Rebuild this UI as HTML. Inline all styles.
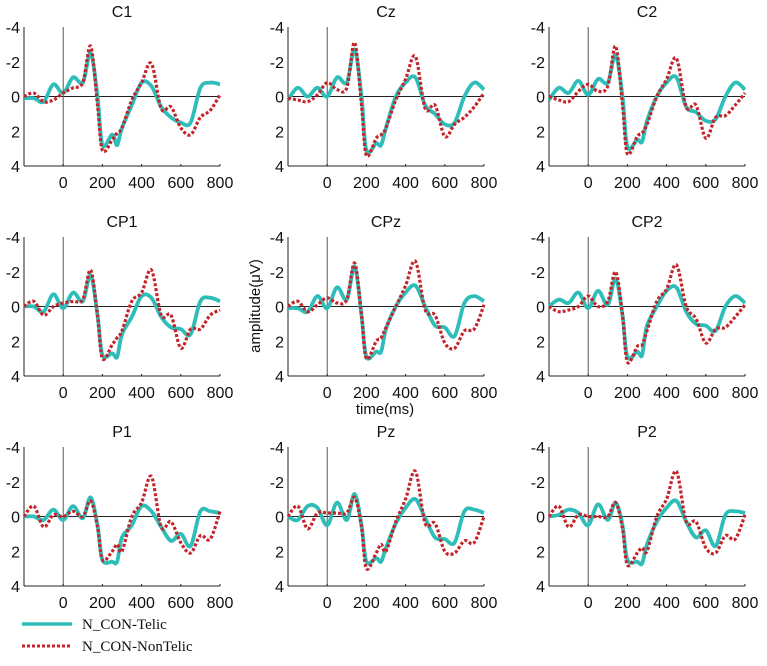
<!DOCTYPE html>
<html><head><meta charset="utf-8"><style>
body{margin:0;background:#fff;}
svg text{font-family:"Liberation Sans",Arial,sans-serif;fill:#111;}
</style></head><body>
<svg id="chart" width="767" height="661" viewBox="0 0 767 661" xmlns="http://www.w3.org/2000/svg"></svg>
<script>
const times=[-200,-150,-100,-50,0,50,100,140,175,200,250,275,300,350,400,450,500,550,600,650,700,750,800];
const channels=["C1","Cz","C2","CP1","CPz","CP2","P1","Pz","P2"];
const telicC1=[0.1,0.1,0.3,-0.7,-0.2,-1.1,-0.8,-2.5,0,2.8,2.2,2.8,1.8,0.5,-0.8,-0.6,0.6,1.2,1.5,1.5,-0.5,-0.8,-0.7];
const nonC1=[0,-0.2,0.3,0.2,-0.2,-0.5,-0.8,-2.9,0.5,3.1,2.5,2.1,1.8,0.2,-0.8,-1.9,0.7,0.6,1.8,2.2,1.2,0.8,-0.1];
const telicCz=[0.2,-0.5,0,-0.5,0,-1.1,-0.8,-2.7,0,3.1,2.7,2.8,1.8,0,-0.8,-1.1,0.5,1.0,1.6,1.5,0,-0.8,-0.4];
const nonCz=[0.1,0.2,0.3,-0.1,-0.8,-0.4,-0.5,-3.1,0.5,3.4,2.4,2.2,1.8,0.2,-1.0,-2.3,0.7,0.5,2.3,1.6,1.2,0.6,-0.2];
const telicC2=[0.2,-0.5,-0.2,-0.9,-0.1,-1.0,-0.8,-2.4,0,2.9,2.5,2.6,1.4,0,-0.8,-1.1,0.6,0.9,1.4,1.3,0,-0.8,-0.4];
const nonC2=[0,0.2,0.3,-0.3,-0.7,-0.3,-0.6,-2.9,0.5,3.3,2.3,2.1,1.6,0,-1.0,-2.2,0.6,0.5,2.4,1.2,1.1,0.5,-0.2];
const telicCP1=[0,0,0.3,-0.7,0.1,-0.8,-0.3,-1.8,0.5,2.8,2.7,2.9,1.6,0.6,-0.6,-0.5,0.6,1.2,1.3,1.6,-0.3,-0.5,-0.3];
const nonCP1=[0,-0.3,0.5,0,-0.2,-0.3,-0.4,-2.1,0.5,3.0,2.2,1.8,1.4,-0.3,-0.8,-2.1,0.5,0.5,2.4,1.3,1.3,0.5,0.2];
const telicCPz=[0.1,0.1,0.3,-0.6,0.1,-1.1,-0.4,-2.3,0.5,2.9,2.6,2.6,1.3,0,-0.8,-1.2,0,1.1,1.2,1.7,-0.2,-0.6,-0.3];
const nonCPz=[0,-0.3,0.3,-0.1,-0.5,-0.2,-0.4,-2.5,0.5,3.0,2.0,1.8,1.2,0,-1.2,-2.6,0.2,0.5,2.1,2.4,1.4,1.3,-0.1];
const telicCP2=[0,-0.4,-0.2,-0.8,0.1,-0.9,-0.1,-1.6,0.5,2.9,2.6,2.8,1.1,0,-0.9,-1.1,0.3,1.0,1.1,1.4,0,-0.6,-0.2];
const nonCP2=[0,0.3,0.2,0,-0.6,0,-0.3,-2.0,0.5,3.2,2.3,2.2,1.4,-0.3,-1.0,-2.4,0,0.7,2.1,1.3,1.2,0.6,-0.1];
const telicP1=[0,0,0.2,-0.4,0.2,-0.6,0.1,-1.1,0.5,2.5,2.6,2.6,1.2,0.5,-0.6,-0.3,0.6,1.4,1.0,1.7,-0.3,-0.3,-0.2];
const nonP1=[0,-0.6,0.6,-0.1,0,-0.3,0,-0.9,0.6,2.5,2.0,1.6,2.0,0,-0.8,-2.3,0.6,0.3,1.5,2.1,1.1,1.3,-0.3];
const telicPz=[0,0.2,-0.6,-0.5,0.5,-0.8,0.2,-1.3,0.5,2.6,2.4,2.6,1.8,0.4,-0.5,-1.0,0.1,1.2,1.3,1.5,-0.3,-0.4,-0.2];
const nonPz=[0,-0.6,0.7,-0.2,-0.2,-0.2,-0.2,-1.1,0.6,3.0,2.1,1.6,2.0,0.3,-1.0,-2.6,0.4,0.4,2.0,2.1,1.4,1.5,0];
const telicP2=[0,-0.1,-0.4,-0.2,0.5,-0.7,0.2,-0.8,0.5,2.5,2.6,2.7,1.6,0.3,-0.5,-0.9,0.3,1.2,0.8,1.7,-0.1,-0.3,-0.2];
const nonP2=[0,-0.6,0.6,-0.1,0,0,0,-0.8,0.7,2.8,2.1,1.8,2.0,0,-1.0,-2.6,0.3,0.3,1.8,2.1,1.1,1.3,-0.1];
const telicSeries=[telicC1,telicCz,telicC2,telicCP1,telicCPz,telicCP2,telicP1,telicPz,telicP2];
const nonSeries=[nonC1,nonCz,nonC2,nonCP1,nonCPz,nonCP2,nonP1,nonPz,nonP2];
const xTicks=[0,200,400,600,800];
const yTicks=[-4,-2,0,2,4];

const NS="http://www.w3.org/2000/svg";
const svg=document.getElementById('chart');
function mk(tag,attrs,parent){const e=document.createElementNS(NS,tag);for(const k in attrs)e.setAttribute(k,attrs[k]);(parent||svg).appendChild(e);return e;}
function smooth(p){let d='M'+p[0][0].toFixed(1)+','+p[0][1].toFixed(1);
  for(let i=0;i<p.length-1;i++){const p0=p[i-1]||p[i],p1=p[i],p2=p[i+1],p3=p[i+2]||p2;
    const c1=[p1[0]+(p2[0]-p0[0])/6,p1[1]+(p2[1]-p0[1])/6],c2=[p2[0]-(p3[0]-p1[0])/6,p2[1]-(p3[1]-p1[1])/6];
    d+=' C'+c1[0].toFixed(1)+','+c1[1].toFixed(1)+' '+c2[0].toFixed(1)+','+c2[1].toFixed(1)+' '+p2[0].toFixed(1)+','+p2[1].toFixed(1);}
  return d;}
const colL=[24,288,549],rowT=[27,237,447],W=196,H=139;
channels.forEach((ch,i)=>{
  const L=colL[i%3],T=rowT[Math.floor(i/3)];
  const xs=t=>L+(t+200)/1000*W;
  const ys=v=>T+(v+4)/8*H;
  const g=mk('g',{});
  
  
  const title=mk('text',{x:L+W/2,y:T-10,'text-anchor':'middle','font-size':16},g);title.textContent=ch;
  
  
  mk('line',{x1:L,y1:T,x2:L,y2:T+H,stroke:'#222','stroke-width':1},g);
  mk('line',{x1:L,y1:T+H,x2:L+W,y2:T+H,stroke:'#222','stroke-width':1},g);
  mk('line',{x1:L,y1:ys(0),x2:L+W,y2:ys(0),stroke:'#222','stroke-width':1},g);
  mk('line',{x1:xs(0),y1:T,x2:xs(0),y2:T+H,stroke:'#555','stroke-width':1},g);
  yTicks.forEach(v=>{const t=mk('text',{x:L-4,y:ys(v)+6,'text-anchor':'end','font-size':16},g);t.textContent=v;
    
    });
  xTicks.forEach(v=>{mk('line',{x1:xs(v),y1:T+H,x2:xs(v),y2:T+H-2,stroke:'#222'},g);
    const t=mk('text',{x:xs(v),y:T+H+22,'text-anchor':'middle','font-size':16},g);t.textContent=v;
    
    });
  const pts=arr=>arr.map((v,k)=>[xs(times[k]),ys(v)]);
  const a=mk('path',{d:smooth(pts(telicSeries[i])),fill:'none',stroke:'#2fbdb9','stroke-width':3.8,'stroke-linejoin':'round'},g);
  
  
  const b=mk('path',{d:smooth(pts(nonSeries[i])),fill:'none',stroke:'#c4252a','stroke-width':3.2,'stroke-dasharray':'3,2','stroke-linejoin':'round'},g);
  
  
});
const yl=mk('text',{x:0,y:0,'text-anchor':'middle','font-size':15,transform:'translate(260,306) rotate(-90)'});yl.textContent='amplitude(μV)';


const xl=mk('text',{x:385,y:414,'text-anchor':'middle','font-size':15});xl.textContent='time(ms)';


const l1=mk('line',{x1:22,y1:624,x2:72,y2:624,stroke:'#2fbdb9','stroke-width':3.5});


const t1=mk('text',{x:82,y:629,'font-size':15,style:'font-family:"Liberation Serif",serif'});t1.textContent='N_CON-Telic';


const l2=mk('line',{x1:22,y1:646,x2:72,y2:646,stroke:'#c4252a','stroke-width':3,'stroke-dasharray':'3,2'});


const t2=mk('text',{x:82,y:651,'font-size':15,style:'font-family:"Liberation Serif",serif'});t2.textContent='N_CON-NonTelic';


</script>
</body></html>
